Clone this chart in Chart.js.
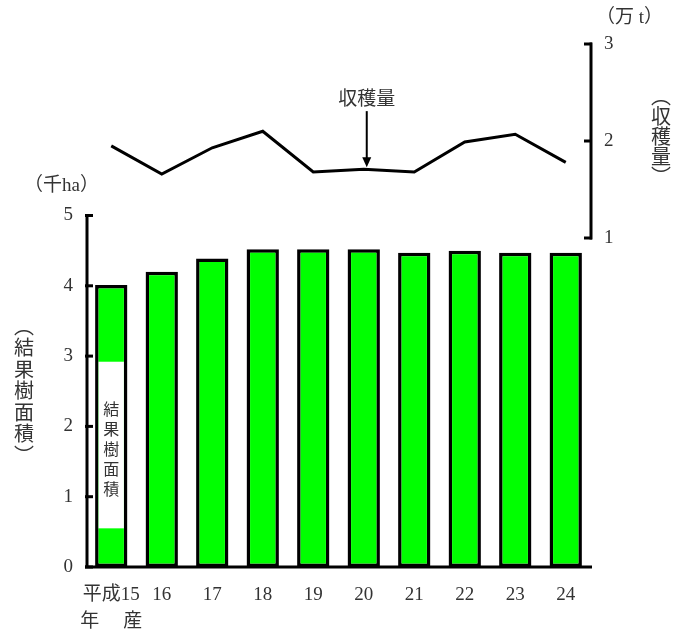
<!DOCTYPE html>
<html>
<head>
<meta charset="utf-8">
<script src="https://cdn.jsdelivr.net/npm/chart.js@4.4.0/dist/chart.umd.min.js"></script>
<style>
  html, body { margin: 0; padding: 0; background: #fff; }
  #wrap { width: 690px; height: 632px; position: relative; }
</style>
</head>
<body>
<div id="wrap"><canvas id="chart"></canvas></div>
<script>
const years = [["平成15", "年　 産"], "16", "17", "18", "19", "20", "21", "22", "23", "24"];
const areaValues = [4.01, 4.2, 4.39, 4.52, 4.52, 4.52, 4.47, 4.5, 4.47, 4.47];
const harvestValues = [1.95, 1.66, 1.93, 2.10, 1.68, 1.71, 1.68, 1.99, 2.07, 1.78];
const areaTicks = [0, 1, 2, 3, 4, 5];
const harvestTicks = [1, 2, 3];

const serif = "'Liberation Serif', 'Noto Sans CJK JP', serif";
const gothic = "'Noto Sans CJK JP', sans-serif";

// Axis lines, inward tick marks, titles and the in-bar label
const decorations = {
  id: "decorations",
  afterDatasetsDraw(chart) {
    const ctx = chart.ctx;
    const x = chart.scales.x;
    const y = chart.scales.y;
    const y2 = chart.scales.y2;
    const left = chart.chartArea.left;
    const right = chart.chartArea.right;

    ctx.save();
    ctx.strokeStyle = "#000";
    ctx.fillStyle = "#000";
    ctx.lineWidth = 3;
    ctx.lineCap = "butt";

    // left axis
    ctx.beginPath();
    ctx.moveTo(left + 1, y.getPixelForValue(5) - 1.5);
    ctx.lineTo(left + 1, y.getPixelForValue(0));
    ctx.stroke();
    areaTicks.forEach(v => {
      const py = y.getPixelForValue(v);
      ctx.beginPath();
      ctx.moveTo(left - 1, py);
      ctx.lineTo(left + 7, py);
      ctx.stroke();
    });

    // bottom axis
    ctx.beginPath();
    ctx.moveTo(left - 1, y.getPixelForValue(0));
    ctx.lineTo(right + 1, y.getPixelForValue(0));
    ctx.stroke();

    // right axis (1..3 only)
    ctx.beginPath();
    ctx.moveTo(right, y2.getPixelForValue(3) - 1.5);
    ctx.lineTo(right, y2.getPixelForValue(1) + 1.5);
    ctx.stroke();
    harvestTicks.forEach(v => {
      const py = y2.getPixelForValue(v);
      ctx.beginPath();
      ctx.moveTo(right - 7, py);
      ctx.lineTo(right + 1, py);
      ctx.stroke();
    });

    // white label box inside first bar
    const bar = chart.getDatasetMeta(1).data[0].getProps(["x", "width"], true);
    const bx = bar.x - bar.width / 2 + 3.5;
    const bw = bar.width - 7;
    const top = y.getPixelForValue(2.92);
    const bottom = y.getPixelForValue(0.55);
    ctx.fillStyle = "#fff";
    ctx.fillRect(bx, top, bw, bottom - top);
    ctx.fillStyle = "#333";
    ctx.font = "16px " + gothic;
    ctx.textAlign = "center";
    ctx.textBaseline = "middle";
    "結果樹面積".split("").forEach((ch, i) => {
      ctx.fillText(ch, bar.x, top + 47 + i * 20);
    });

    // arrow to the harvest line
    const ax = x.getPixelForValue(5) + 3;
    const tip = y2.getPixelForValue(harvestValues[5]) - 2;
    const start = tip - 56;
    ctx.lineWidth = 2;
    ctx.strokeStyle = "#000";
    ctx.beginPath();
    ctx.moveTo(ax, start);
    ctx.lineTo(ax, tip - 8);
    ctx.stroke();
    ctx.fillStyle = "#000";
    ctx.beginPath();
    ctx.moveTo(ax - 4.5, tip - 10);
    ctx.lineTo(ax + 4.5, tip - 10);
    ctx.lineTo(ax, tip);
    ctx.closePath();
    ctx.fill();
    ctx.fillStyle = "#333";
    ctx.font = "19px " + gothic;
    ctx.textBaseline = "middle";
    ctx.fillText("収穫量", ax, start - 13);

    // unit labels
    ctx.font = "19px " + serif;
    ctx.textAlign = "left";
    ctx.fillText("（千ha）", 24, 186);
    ctx.fillText("（万 t）", 596, 18);

    // vertical axis titles
    ctx.font = "20px " + gothic;
    ctx.textAlign = "center";
    const leftTitle = ["︵", "結", "果", "樹", "面", "積", "︶"];
    leftTitle.forEach((ch, i) => {
      ctx.fillText(ch, 24, 326 + i * 21.5);
    });
    const rightTitle = ["︵", "収", "穫", "量", "︶"];
    rightTitle.forEach((ch, i) => {
      ctx.fillText(ch, 661, 96 + i * 20);
    });

    ctx.restore();
  }
};

new Chart(document.getElementById("chart"), {
  data: {
    labels: years,
    datasets: [
      {
        type: "line",
        label: "収穫量",
        data: harvestValues,
        yAxisID: "y2",
        borderColor: "#000",
        borderWidth: 3,
        pointRadius: 0,
        tension: 0,
        order: 0
      },
      {
        type: "bar",
        label: "結果樹面積",
        data: areaValues,
        yAxisID: "y",
        backgroundColor: "#00ff00",
        borderColor: "#000",
        borderWidth: 3.5,
        borderSkipped: false,
        categoryPercentage: 1,
        barPercentage: 0.64,
        order: 1
      }
    ]
  },
  options: {
    responsive: true,
    maintainAspectRatio: false,
    animation: false,
    layout: { padding: { top: 44, left: 0, right: 0, bottom: 0 } },
    plugins: {
      legend: { display: false },
      tooltip: { enabled: false }
    },
    scales: {
      x: {
        grid: { display: false, drawTicks: false },
        border: { display: false },
        ticks: {
          color: "#333",
          font: { family: serif, size: 19, lineHeight: 1.45 },
          padding: 14,
          maxRotation: 0,
          autoSkip: false
        },
        afterFit: s => { s.height = 65; }
      },
      y: {
        position: "left",
        min: 0,
        max: 523 / 70.3,
        grid: { display: false, drawTicks: false },
        border: { display: false },
        ticks: {
          color: "#333",
          font: { family: serif, size: 19 },
          padding: 13
        },
        afterBuildTicks: s => { s.ticks = areaTicks.map(v => ({ value: v })); },
        afterFit: s => { s.width = 86; }
      },
      y2: {
        position: "right",
        min: 3 - 523 / 97,
        max: 3,
        grid: { display: false, drawTicks: false },
        border: { display: false },
        ticks: {
          color: "#333",
          font: { family: serif, size: 19 },
          padding: 13
        },
        afterBuildTicks: s => { s.ticks = harvestTicks.map(v => ({ value: v })); },
        afterFit: s => { s.width = 99; }
      }
    }
  },
  plugins: [decorations]
});
</script>
</body>
</html>
